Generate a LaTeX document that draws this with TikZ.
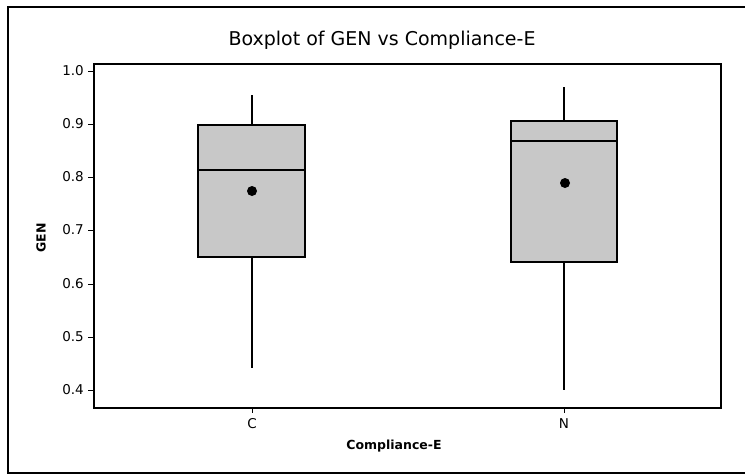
\documentclass[tikz,border=0pt]{standalone}
\usepackage{fontspec}
\setmainfont{DejaVu Sans}
\definecolor{boxgray}{RGB}{200,200,200}
\begin{document}
\begin{tikzpicture}[x=1pt,y=-1pt,
  frame/.style={draw=black,line width=1.3pt},
  axis/.style={draw=black,line width=1.2pt},
  boxbody/.style={draw=black,fill=boxgray,line width=1.4pt},
  whisker/.style={draw=black,line width=1.3pt},
  tickline/.style={draw=black,line width=1pt},
  meandot/.style={circle,fill=black,inner sep=0pt,minimum size=10pt},
  ticklab/.style={font=\fontsize{13.5}{15}\selectfont,inner sep=0pt},
  axlab/.style={font=\fontsize{12.5}{15}\selectfont\bfseries,inner sep=0pt},
  titlelab/.style={font=\fontsize{19}{22}\selectfont,inner sep=0pt}]
\useasboundingbox (0,0) rectangle (745,475);
% outer frame (right edge lies beyond the page)
\draw[frame] (8,7) rectangle (760,473);
% title
\node[titlelab] (title) at (382,40) {Boxplot of GEN vs Compliance-E};
% plot area
\draw[axis] (94,64) rectangle (721,408);
% y ticks and labels
\foreach \v/\yy/\k in {1.0/71/a,0.9/124/b,0.8/177/c,0.7/230/d,0.6/284/e,0.5/337/f,0.4/390/g}{
  \coordinate (yt\k) at (94,\yy);
  \draw[tickline] (yt\k) -- ++(-6,0);
  \node[ticklab,anchor=east] (yl\k) at (84,\yy) {\v};
}
% x ticks and labels
\coordinate (xtC) at (252,408);
\coordinate (xtN) at (564,408);
\draw[tickline] (xtC) -- ++(0,5);
\draw[tickline] (xtN) -- ++(0,5);
\node[ticklab] (xlC) at (252,424) {C};
\node[ticklab] (xlN) at (564,424) {N};
% axis titles
\node[axlab] (xtitle) at (394,446) {Compliance-E};
\node[axlab,rotate=90] (ytitle) at (41,238) {GEN};
% box C
\coordinate (cwt) at (252,95);
\coordinate (cwb) at (252,368);
\draw[whisker] (cwt) -- (252,125);
\draw[whisker] (252,257) -- (cwb);
\draw[boxbody] (198,125) rectangle (305,257);
\draw[boxbody] (198,170) -- (305,170);
\node[meandot] (cmean) at (252,191) {};
% box N
\coordinate (nwt) at (564,87);
\coordinate (nwb) at (564,390);
\draw[whisker] (nwt) -- (564,121);
\draw[whisker] (564,262) -- (nwb);
\draw[boxbody] (511,121) rectangle (617,262);
\draw[boxbody] (511,141) -- (617,141);
\node[meandot] (nmean) at (565,183) {};
\end{tikzpicture}
\end{document}
